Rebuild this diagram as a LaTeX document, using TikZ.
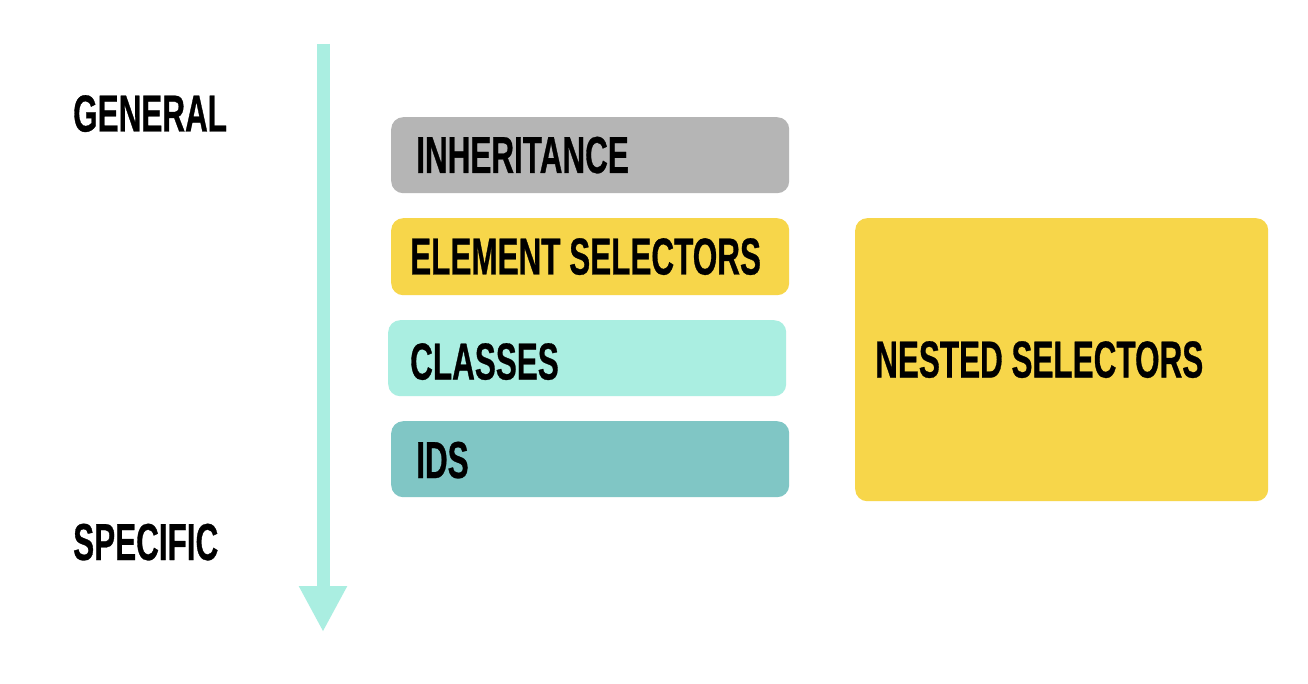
\documentclass[tikz,border=0pt]{standalone}
\usepackage{fontspec}
\setmainfont{Liberation Sans}
\newfontfamily\condfont[FakeStretch=0.605,FakeBold=0.6]{Liberation Sans}
\usetikzlibrary{arrows.meta}
\definecolor{boxgray}{HTML}{B5B5B5}
\definecolor{boxyellow}{HTML}{F7D64A}
\definecolor{boxmint}{HTML}{AAEEE1}
\definecolor{boxteal}{HTML}{80C6C5}
\tikzset{
  panel/.style={rounded corners=12pt, inner sep=0pt, anchor=north west, draw=none},
  caption/.style={anchor=west, inner sep=0pt, text height=37pt, text depth=0pt,
    font=\condfont\bfseries\fontsize{52}{52}\selectfont}
}
\begin{document}
\begin{tikzpicture}[x=1pt,y=-1pt]
  \useasboundingbox[fill=white] (0,0) rectangle (1308,684);

  % specificity axis
  \coordinate (axistop) at (323,44);
  \coordinate (axisend) at (323,632);
  \draw[boxmint, line width=13pt, -{Triangle[width=45pt,length=46pt]}] (axistop) -- (axisend);
  \node[caption] (general) at (73,113) {GENERAL};
  \node[caption] (specific) at (73,541.5) {SPECIFIC};

  % stacked selector levels
  \node[panel, fill=boxgray, minimum width=398pt, minimum height=76pt] (inh) at (391,117) {};
  \node[caption] (inhtext) at (416,154.5) {INHERITANCE};

  \node[panel, fill=boxyellow, minimum width=398pt, minimum height=77pt] (elem) at (391,218) {};
  \node[caption] (elemtext) at (410,256) {ELEMENT SELECTORS};

  \node[panel, fill=boxmint, minimum width=398pt, minimum height=76pt] (cls) at (388,320) {};
  \node[caption] (clstext) at (410,361) {CLASSES};

  \node[panel, fill=boxteal, minimum width=398pt, minimum height=76pt] (ids) at (391,421) {};
  \node[caption] (idstext) at (416,459.5) {IDS};

  % nested selectors
  \node[panel, fill=boxyellow, minimum width=413pt, minimum height=283pt] (nested) at (855,218) {};
  \node[caption] (nestedtext) at (875,359) {NESTED SELECTORS};
\end{tikzpicture}
\end{document}
